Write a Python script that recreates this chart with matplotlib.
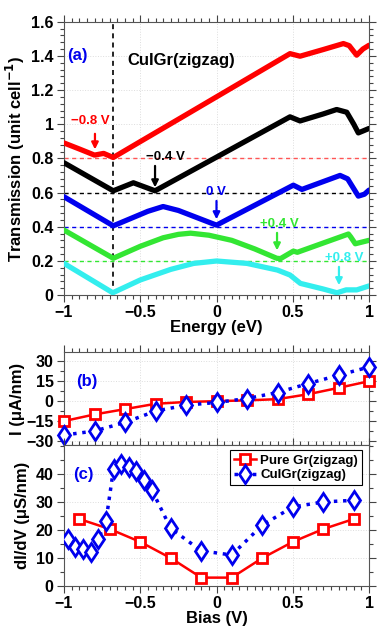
import numpy as np
import matplotlib.pyplot as plt
from matplotlib.ticker import MultipleLocator

plt.rcParams['font.family'] = ['Liberation Sans', 'DejaVu Sans']
plt.rcParams['font.weight'] = 'bold'
plt.rcParams['axes.labelweight'] = 'bold'

# (a) transmission curves at several biases (offset by 0.2 each)
e_m08 = [-1.0, -0.9, -0.8, -0.74, -0.677, -0.5, -0.2, 0.0, 0.2, 0.4, 0.482, 0.548, 0.7, 0.832, 0.87, 0.919, 0.96, 1.0]
t_m08 = [0.89, 0.855, 0.819, 0.829, 0.805, 0.898, 1.055, 1.16, 1.265, 1.37, 1.413, 1.398, 1.437, 1.472, 1.46, 1.404, 1.44, 1.462]

e_m04 = [-1.0, -0.677, -0.545, -0.403, 0.0, 0.2, 0.482, 0.548, 0.7, 0.788, 0.854, 0.9, 0.93, 0.96, 1.0]
t_m04 = [0.774, 0.61, 0.657, 0.61, 0.807, 0.905, 1.043, 1.019, 1.06, 1.086, 1.07, 1.0, 0.949, 0.96, 0.975]

e_0 = [-1.0, -0.677, -0.45, -0.35, -0.25, 0.0, 0.504, 0.56, 0.81, 0.86, 0.93, 0.97, 1.0]
t_0 = [0.575, 0.405, 0.49, 0.518, 0.495, 0.409, 0.643, 0.618, 0.70, 0.68, 0.579, 0.59, 0.614]

e_p04 = [-1.0, -0.677, -0.5, -0.35, -0.25, -0.17, -0.05, 0.1, 0.25, 0.395, 0.42, 0.504, 0.53, 0.865, 0.88, 0.91, 1.0]
t_p04 = [0.38, 0.215, 0.285, 0.335, 0.355, 0.362, 0.35, 0.32, 0.27, 0.215, 0.213, 0.257, 0.25, 0.357, 0.34, 0.30, 0.32]

e_p08 = [-1.0, -0.68, -0.5, -0.3, -0.15, 0.0, 0.2, 0.4, 0.482, 0.55, 0.7, 0.79, 0.85, 0.92, 1.0]
t_p08 = [0.185, 0.013, 0.088, 0.15, 0.185, 0.199, 0.185, 0.146, 0.117, 0.068, 0.035, 0.013, 0.03, 0.03, 0.053]

curve_labels = ['\u22120.8 V', '\u22120.4 V', '0 V', '+0.4 V', '+0.8 V']
curve_colors = ['#ff0000', '#000000', '#0000ee', '#33e633', '#33eeee']
baselines = [0.8, 0.6, 0.4, 0.2, 0.0]
arrow_x = [-0.797, -0.403, 0.0, 0.397, 0.803]
arrow_y0 = [0.96, 0.772, 0.567, 0.38, 0.181]
arrow_y1 = [0.836, 0.614, 0.427, 0.245, 0.041]
label_x = [-0.83, -0.338, -0.003, 0.41, 0.836]
label_y = [1.018, 0.807, 0.602, 0.415, 0.216]

# (b) current, (c) differential conductance
bias_i = [-1.0, -0.8, -0.6, -0.4, -0.2, 0.0, 0.2, 0.4, 0.6, 0.8, 1.0]
i_pure = [-15, -10, -6, -2, -0.6, 0, 0.6, 1.5, 5.2, 10, 15]
i_cu = [-25.5, -22.5, -16, -7.5, -3, -1, 2, 6.5, 13.2, 19.5, 25.7]

bias_pure = [-0.9, -0.7, -0.5, -0.3, -0.1, 0.1, 0.3, 0.5, 0.7, 0.9]
g_pure = [24, 20.4, 15.8, 10, 3, 3, 10, 15.8, 20.4, 24]
bias_cu = [-0.975, -0.925, -0.875, -0.825, -0.775, -0.725, -0.675, -0.625, -0.575,
           -0.525, -0.475, -0.425, -0.3, -0.1, 0.1, 0.3, 0.5, 0.7, 0.9]
g_cu = [17.0, 14.0, 13.1, 12.3, 17.0, 23.2, 42.0, 43.6, 42.6, 41.2, 38.1, 34.5,
        20.6, 12.6, 11.1, 21.8, 28.3, 30.1, 30.7]

fig = plt.figure(figsize=(3.92, 6.37), dpi=100)
W, H = 392.0, 637.0
L, R = 64 / W, 369 / W
ax_a = fig.add_axes([L, 1 - 295 / H, R - L, (295 - 21.7) / H])
ax_b = fig.add_axes([L, 1 - 445 / H, R - L, (445 - 352) / H])
ax_c = fig.add_axes([L, 1 - 586 / H, R - L, (586 - 445) / H])


def style(ax, xminor, yminor, ymajor):
    ax.set_xlim(-1, 1)
    ax.xaxis.set_major_locator(MultipleLocator(0.5))
    ax.xaxis.set_minor_locator(MultipleLocator(xminor))
    ax.yaxis.set_major_locator(MultipleLocator(ymajor))
    ax.yaxis.set_minor_locator(MultipleLocator(yminor))
    ax.tick_params(which='both', direction='out', top=True, right=True,
                   labelsize=11.5, width=0.8, color='#444444', pad=2.5)
    ax.tick_params(which='major', length=5)
    ax.tick_params(which='minor', length=3)
    ax.grid(True, which='major', color='#dddddd', ls=':', lw=0.7)
    ax.set_axisbelow(True)
    for s in ax.spines.values():
        s.set_color('#555555')
        s.set_linewidth(0.8)


# panel (a)
style(ax_a, 0.05, 0.04, 0.2)
ax_a.set_ylim(0, 1.6)
ax_a.set_yticks([0, 0.2, 0.4, 0.6, 0.8, 1.0, 1.2, 1.4, 1.6])
ax_a.set_yticklabels(['0', '0.2', '0.4', '0.6', '0.8', '1', '1.2', '1.4', '1.6'], fontweight='bold')
ax_a.set_xticks([-1, -0.5, 0, 0.5, 1])
ax_a.set_xticklabels(['\u22121', '\u22120.5', '0', '0.5', '1'], fontweight='bold')

for yb, c in zip(baselines[:4], curve_colors[:4]):
    ax_a.axhline(yb, color=c if c != '#ff0000' else '#ff5555', ls=(0, (3, 2.5)), lw=1.0, zorder=1)
ax_a.axvline(-0.677, color='black', ls=(0, (3, 2.5)), lw=1.2, zorder=1)

for e, t, c in [(e_m08, t_m08, curve_colors[0]), (e_m04, t_m04, curve_colors[1]),
                (e_0, t_0, curve_colors[2]), (e_p04, t_p04, curve_colors[3]),
                (e_p08, t_p08, curve_colors[4])]:
    ax_a.plot(e, t, color=c, lw=3.8, solid_joinstyle='round', solid_capstyle='round', zorder=3)

for lab, c, ax_, y0, y1, lx, ly in zip(curve_labels, curve_colors, arrow_x, arrow_y0, arrow_y1, label_x, label_y):
    ax_a.annotate('', xy=(ax_, y1), xytext=(ax_, y0),
                  arrowprops=dict(arrowstyle='-|>', color=c, lw=1.6, mutation_scale=10), zorder=4)
    ax_a.text(lx, ly, lab, color=c, fontsize=9.5, fontweight='bold', ha='center', va='center', zorder=4)

ax_a.text(-0.915, 1.40, '(a)', color='#0000ee', fontsize=12, fontweight='bold', ha='center', va='center')
ax_a.text(-0.233, 1.374, 'CuIGr(zigzag)', color='black', fontsize=12, fontweight='bold', ha='center', va='center')
ax_a.set_xlabel('Energy (eV)', fontsize=12, fontweight='bold', labelpad=0)
ax_a.set_ylabel('Transmission (unit cell$^{\\mathbf{-1}}$)', fontsize=12, fontweight='bold', labelpad=3)

# panel (b)
style(ax_b, 0.05, 7.5, 15)
ax_b.set_ylim(-33, 37)
ax_b.set_yticks([-30, -15, 0, 15, 30])
ax_b.set_yticklabels(['\u221230', '\u221215', '0', '15', '30'], fontweight='bold')
ax_b.set_xticks([-1, -0.5, 0, 0.5, 1])
ax_b.tick_params(labelbottom=False)
ax_b.plot(bias_i, i_pure, color='#ff0000', lw=1.8, marker='s', ms=7, mfc='white', mew=2, zorder=3, clip_on=False)
ax_b.plot(bias_i, i_cu, color='#0000ee', lw=2.5, ls=':', marker='d', ms=9.5, mfc='white', mew=2, zorder=3, clip_on=False)
ax_b.text(-0.85, 15, '(b)', color='#0000ee', fontsize=12, fontweight='bold', ha='center', va='center')
ax_b.set_ylabel('I (\u03bcA/nm)', fontsize=12, fontweight='bold', labelpad=1)

# panel (c)
style(ax_c, 0.05, 5, 10)
ax_c.set_ylim(0, 50.5)
ax_c.set_yticks([0, 10, 20, 30, 40])
ax_c.set_xticks([-1, -0.5, 0, 0.5, 1])
ax_c.set_xticklabels(['\u22121', '\u22120.5', '0', '0.5', '1'], fontweight='bold')
ax_c.set_yticklabels(['0', '10', '20', '30', '40'], fontweight='bold')
ax_c.plot(bias_pure, g_pure, color='#ff0000', lw=1.8, marker='s', ms=7, mfc='white', mew=2,
          zorder=3, label='Pure Gr(zigzag)')
ax_c.plot(bias_cu, g_cu, color='#0000ee', lw=2.5, ls=':', marker='d', ms=9.5, mfc='white', mew=2,
          zorder=3, label='CuIGr(zigzag)')
ax_c.text(-0.87, 40, '(c)', color='#0000ee', fontsize=12, fontweight='bold', ha='center', va='center')
ax_c.set_xlabel('Bias (V)', fontsize=12, fontweight='bold', labelpad=0)
ax_c.set_ylabel('dI/dV (\u03bcS/nm)', fontsize=12, fontweight='bold', labelpad=4)
leg = ax_c.legend(loc='upper right', bbox_to_anchor=(0.99, 0.99), fontsize=9.5, frameon=True, fancybox=False,
                  framealpha=1, edgecolor='black', handlelength=1.7, borderpad=0.3,
                  labelspacing=0.2, handletextpad=0.3, borderaxespad=0.3)
leg.get_frame().set_linewidth(0.8)
for t in leg.get_texts():
    t.set_fontweight('bold')

fig.savefig('out.png', dpi=100)
